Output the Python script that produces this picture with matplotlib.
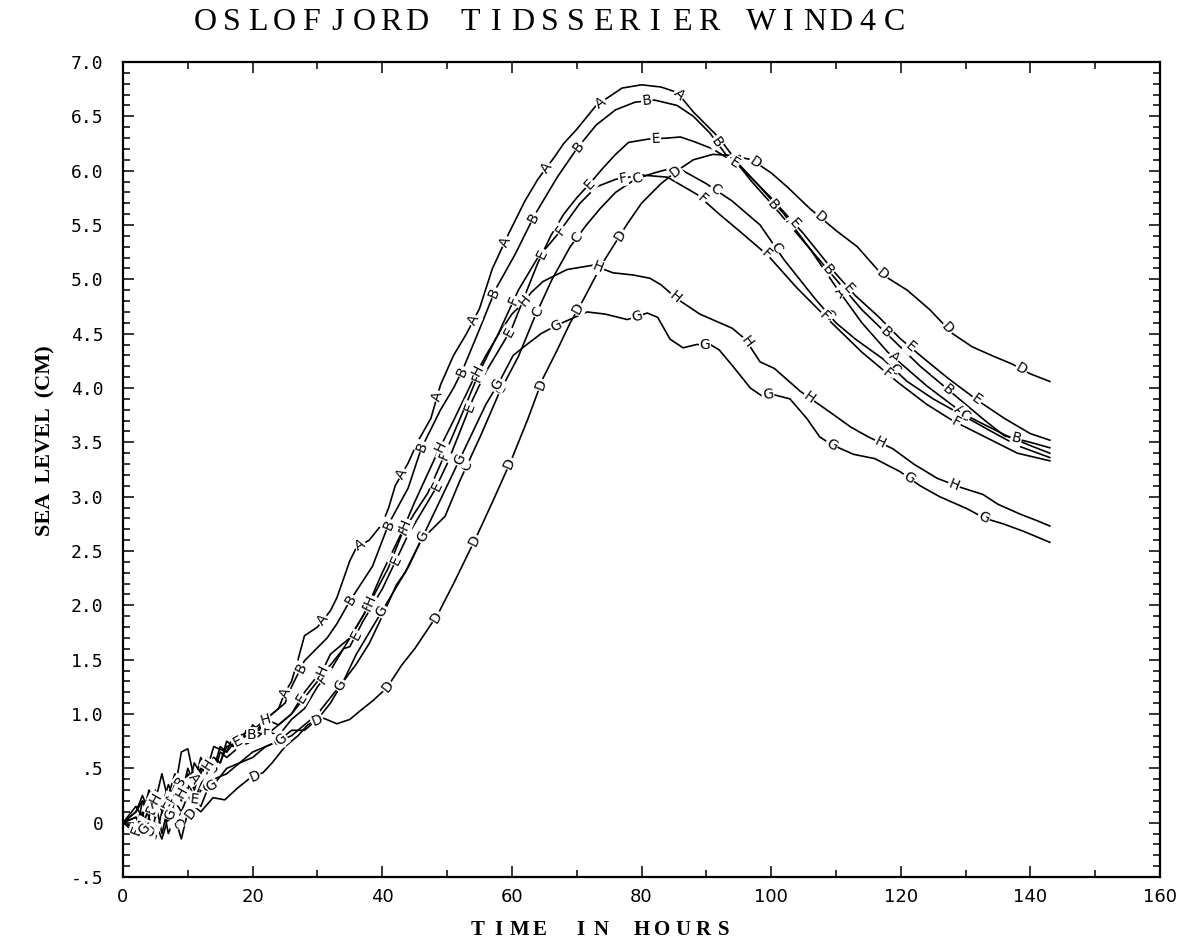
import numpy as np
import matplotlib
matplotlib.use("Agg")
import matplotlib.pyplot as plt
from matplotlib.ticker import MultipleLocator

W, H = 1184, 944

# time series (hours, cm)
t_a = [0, 2, 3, 4, 5, 6, 7, 8, 9, 10, 11, 12, 13, 14, 15, 16, 17, 18, 19, 20, 21, 22, 23, 24, 25, 26, 27, 28, 30,
       32, 33, 35, 36, 38, 40, 41, 42, 44, 45.5, 47.5, 49, 51, 53, 55, 57, 59.5, 62, 64, 66.5, 68, 70, 73, 75.5,
       77, 80, 83, 85.5, 88, 90, 92, 95, 98, 102, 106, 110, 114, 118, 124, 130, 136, 140, 143]
y_a = [0, 0.05, -0.05, 0.15, 0.05, 0.25, 0.1, 0.3, 0.65, 0.68, 0.4, 0.5, 0.45, 0.6, 0.55, 0.75, 0.7, 0.8, 0.75, 0.9,
       0.85, 0.95, 1.0, 1.05, 1.2, 1.3, 1.5, 1.72, 1.8, 1.95, 2.07, 2.41, 2.53, 2.6, 2.75, 2.9, 3.1, 3.31, 3.51, 3.72,
       4.03, 4.3, 4.5, 4.73, 5.1, 5.42, 5.72, 5.92, 6.12, 6.25, 6.38, 6.6, 6.7, 6.76, 6.79, 6.77, 6.72, 6.54, 6.42,
       6.3, 6.06, 5.87, 5.6, 5.28, 4.93, 4.6, 4.33, 4.02, 3.75, 3.57, 3.47, 3.40]

t_b = [0, 2, 3, 4, 5, 6, 7, 8, 9, 10, 11, 12, 13, 14, 15, 16, 17, 18, 19, 20, 22, 24, 25, 26, 27, 28, 30, 31.5, 33,
       35, 38.5, 41, 44, 46, 49, 51, 52.5, 55, 57.5, 60.5, 63.5, 67, 70, 73, 76, 79, 82, 85.5, 88, 90.5, 93, 95, 97,
       100, 105, 109, 114, 118, 123, 129, 133, 136, 140, 143]
y_b = [0, 0.1, 0.2, 0.05, 0.25, 0.15, 0.35, 0.2, 0.4, 0.3, 0.55, 0.45, 0.6, 0.5, 0.7, 0.65, 0.8, 0.7, 0.85, 0.8,
       0.95, 1.05, 1.1, 1.25, 1.37, 1.49, 1.61, 1.7, 1.83, 2.04, 2.36, 2.75, 3.08, 3.44, 3.8, 4.0, 4.18, 4.54, 4.91,
       5.23, 5.59, 5.94, 6.2, 6.42, 6.56, 6.63, 6.65, 6.6, 6.5, 6.35, 6.15, 6.05, 5.9, 5.7, 5.35, 5.07, 4.72, 4.49,
       4.2, 3.9, 3.7, 3.56, 3.5, 3.45]

t_c = [0, 2, 3, 4, 5, 6, 7, 8, 9, 10, 11, 12, 13, 14, 16, 18, 20, 22, 24, 26, 28, 30, 32, 34, 36, 38, 40, 42.2,
       43.5, 46, 49.7, 52, 55.1, 58, 61, 63.5, 66.2, 69, 71.5, 73.6, 76, 79, 82, 84.5, 86.4, 90, 94, 98.3, 102,
       106.8, 110, 113, 117.2, 121, 125, 129.2, 134, 138, 143]
y_c = [0, -0.05, 0.1, -0.15, 0.05, 0.2, -0.1, 0.05, -0.15, 0.1, 0.2, 0.15, 0.3, 0.4, 0.45, 0.55, 0.6, 0.7, 0.75,
       0.8, 0.9, 1.0, 1.15, 1.3, 1.46, 1.65, 1.9, 2.19, 2.3, 2.6, 2.82, 3.15, 3.55, 3.95, 4.29, 4.65, 5.0, 5.3, 5.5,
       5.65, 5.8, 5.92, 5.98, 6.02, 6.0, 5.88, 5.72, 5.5, 5.18, 4.82, 4.6, 4.45, 4.27, 4.06, 3.9, 3.76, 3.6, 3.47,
       3.36]

t_d = [0, 2, 3, 4, 5, 6, 7, 8, 9, 10, 11, 12, 13.9, 15.7, 17.7, 19.6, 21.6, 23, 25, 27, 28.5, 30, 31, 33, 35, 36.6,
       38.5, 40.7, 43, 45, 48.6, 51, 54.6, 57, 60, 62.5, 64.8, 67, 69, 71, 74, 77.8, 80, 83, 85.5, 88, 91, 94, 97,
       100, 102.5, 106, 110, 113.3, 117, 121, 124.5, 128, 131, 134, 137.2, 140, 143]
y_d = [0, -0.05, 0.05, -0.1, 0.0, -0.15, 0.05, 0.0, 0.1, 0.05, 0.15, 0.1, 0.23, 0.21, 0.32, 0.41, 0.46, 0.55, 0.7,
       0.8, 0.9, 0.95, 0.96, 0.91, 0.95, 1.03, 1.12, 1.24, 1.45, 1.6, 1.92, 2.2, 2.64, 2.95, 3.35, 3.72, 4.09, 4.35,
       4.6, 4.81, 5.15, 5.51, 5.7, 5.88, 6.0, 6.1, 6.15, 6.14, 6.1, 5.98, 5.85, 5.65, 5.45, 5.3, 5.05, 4.9, 4.72,
       4.5, 4.38, 4.3, 4.22, 4.13, 4.06]

t_e = [0, 2, 3, 4, 5, 6, 7, 8, 9, 10, 11, 12, 14, 15, 16, 18, 20, 22, 24, 26, 28, 30, 32, 34, 35, 37, 40, 42, 44,
       46, 48, 50, 52, 54, 56, 58, 60, 62, 64, 66, 68, 70, 72, 74, 76, 78, 81, 84, 86, 88, 91, 95, 100, 105, 110,
       113, 116.5, 120, 124, 127.5, 132, 136, 140, 143]
y_e = [0, -0.1, 0.2, 0.15, 0.3, 0.1, 0.25, 0.45, 0.3, 0.4, 0.2, 0.35, 0.6, 0.55, 0.7, 0.75, 0.85, 0.8, 0.9, 1.0,
       1.2, 1.35, 1.45, 1.6, 1.62, 1.85, 2.15, 2.4, 2.65, 2.85, 3.05, 3.3, 3.6, 3.9, 4.15, 4.35, 4.55, 4.85, 5.15,
       5.4, 5.6, 5.75, 5.88, 6.02, 6.15, 6.26, 6.29, 6.3, 6.31, 6.27, 6.2, 6.05, 5.75, 5.42, 5.05, 4.85, 4.66, 4.45,
       4.25, 4.08, 3.88, 3.72, 3.58, 3.52]

t_f = [0, 2, 3, 4, 5, 6, 7, 8, 9, 10, 11, 12, 14, 15, 16, 18, 20, 22, 24, 26, 28, 30, 32, 34.5, 37, 40.9, 43, 45,
       47, 49, 52.3, 55, 57.9, 61, 63.9, 67, 70.5, 73, 76, 80, 84, 88.6, 92, 95, 99.5, 104, 109, 114, 119.6, 124,
       128, 133, 138, 143]
y_f = [0, 0.1, 0.25, 0.1, 0.2, -0.1, 0.15, 0.3, 0.2, 0.45, 0.3, 0.5, 0.45, 0.65, 0.6, 0.7, 0.75, 0.85, 0.8, 0.95,
       1.05, 1.25, 1.4, 1.65, 1.9, 2.34, 2.65, 2.85, 3.03, 3.3, 3.76, 4.15, 4.5, 4.9, 5.19, 5.41, 5.7, 5.85, 5.92,
       5.96, 5.94, 5.78, 5.6, 5.45, 5.22, 4.92, 4.62, 4.33, 4.05, 3.85, 3.7, 3.55, 3.4, 3.33]

t_g = [0, 2, 3, 4, 5, 6, 7, 8, 9, 10, 11, 12, 14, 16, 18, 20, 22, 24, 26, 28, 30, 32, 34, 36, 38, 40, 42, 44, 46,
       48, 50, 52, 54, 56, 58, 60.2, 62.3, 64.5, 67, 71.6, 74.4, 77.8, 80.9, 82.5, 84.4, 86.4, 88.5, 90.6, 92, 94.1,
       96.8, 98.5, 100.3, 102.9, 105.5, 107.5, 109.3, 112.7, 116, 119.9, 123, 126, 130.2, 133, 135.8, 139, 143]
y_g = [0, 0.05, -0.1, 0.05, -0.15, 0.1, 0.0, 0.2, 0.1, 0.25, 0.15, 0.3, 0.35, 0.5, 0.55, 0.65, 0.7, 0.75, 0.85,
       0.85, 0.95, 1.1, 1.3, 1.55, 1.75, 1.95, 2.15, 2.35, 2.6, 2.85, 3.1, 3.35, 3.6, 3.85, 4.05, 4.3, 4.4, 4.5,
       4.58, 4.7, 4.68, 4.63, 4.69, 4.65, 4.45, 4.37, 4.4, 4.4, 4.35, 4.2, 4.0, 3.93, 3.94, 3.9, 3.72, 3.55, 3.48,
       3.39, 3.35, 3.23, 3.1, 3.0, 2.89, 2.8, 2.75, 2.68, 2.58]

t_h = [0, 2, 3, 4, 5, 6, 7, 8, 9, 10, 11, 12, 13, 14, 16, 18, 20, 22, 24, 26, 28, 30, 32, 34, 35, 37.3, 40, 43,
       45, 48.4, 51, 54.3, 56, 58, 60, 61.7, 63, 64.8, 68.5, 72.5, 75.6, 78.7, 81.3, 83, 85.5, 89, 94, 96, 98.3,
       100.5, 104.5, 109.5, 112.3, 115, 118.8, 122, 125.6, 129, 132.7, 135, 138.4, 141, 143]
y_h = [0, 0.15, 0.05, 0.3, 0.2, 0.45, 0.2, 0.35, 0.25, 0.5, 0.35, 0.6, 0.5, 0.7, 0.65, 0.8, 0.85, 0.95, 0.9, 1.0,
       1.15, 1.3, 1.55, 1.65, 1.7, 1.93, 2.3, 2.67, 2.95, 3.39, 3.7, 4.11, 4.3, 4.5, 4.68, 4.78, 4.88, 4.98, 5.09,
       5.13, 5.06, 5.04, 5.01, 4.95, 4.82, 4.68, 4.55, 4.45, 4.24, 4.18, 3.97, 3.76, 3.64, 3.55, 3.44, 3.3, 3.17,
       3.09, 3.02, 2.93, 2.84, 2.78, 2.73]

series = [("A", t_a, y_a), ("B", t_b, y_b), ("C", t_c, y_c), ("D", t_d, y_d),
          ("E", t_e, y_e), ("F", t_f, y_f), ("G", t_g, y_g), ("H", t_h, y_h)]

x_ticks = [0, 20, 40, 60, 80, 100, 120, 140, 160]
y_ticks = [-0.5, 0, 0.5, 1.0, 1.5, 2.0, 2.5, 3.0, 3.5, 4.0, 4.5, 5.0, 5.5, 6.0, 6.5, 7.0]
y_tick_labels = ["-.5", "0", ".5", "1.0", "1.5", "2.0", "2.5", "3.0", "3.5", "4.0", "4.5", "5.0", "5.5",
                 "6.0", "6.5", "7.0"]


def spaced_text(fig, text, x0, step, y, **kw):
    # plotter style lettering: fixed advance per character
    for i, ch in enumerate(text):
        fig.text((x0 + i * step) / W, 1 - y / H, ch, ha="center", va="center", **kw)


def label_curve(ax, t, y, letter, start, gap=85):
    # letters along the curve every `gap` pixels of arc length
    tt = np.linspace(t[0], t[-1], 3000)
    yy = np.interp(tt, t, y)
    pts = ax.transData.transform(np.column_stack([tt, yy]))
    s = np.concatenate([[0], np.cumsum(np.hypot(np.diff(pts[:, 0]), np.diff(pts[:, 1])))])
    for target in np.arange(start, s[-1] - 25, gap):
        i = np.searchsorted(s, target)
        j0, j1 = max(i - 12, 0), min(i + 12, len(tt) - 1)
        dx, dy = pts[j1] - pts[j0]
        ang = np.degrees(np.arctan2(dy, dx))
        if ang > 90:
            ang -= 180
        elif ang < -90:
            ang += 180
        ax.text(tt[i], yy[i], letter, rotation=ang, rotation_mode="anchor", ha="center", va="center",
                fontsize=10, family="DejaVu Sans",
                bbox=dict(facecolor="white", edgecolor="none", pad=0.7))


fig = plt.figure(figsize=(W / 100, H / 100), dpi=100)
ax = fig.add_axes([123 / W, 1 - 877 / H, (1160 - 123) / W, (877 - 62) / H])
ax.set_xlim(0, 160)
ax.set_ylim(-0.5, 7.0)

starts = {"A": 30, "B": 55, "C": 70, "D": 45, "E": 20, "F": 60, "G": 35, "H": 75}
for name, t, y in series:
    ax.plot(t, y, color="black", lw=1.2)
for name, t, y in series:
    label_curve(ax, t, y, name, starts[name])

ax.set_xticks(x_ticks)
ax.set_xticklabels([str(v) for v in x_ticks], family="DejaVu Sans", fontsize=13)
ax.xaxis.set_minor_locator(MultipleLocator(10))
ax.set_yticks(y_ticks)
ax.set_yticklabels(y_tick_labels, family="DejaVu Sans Mono", fontsize=13)
ax.yaxis.set_minor_locator(MultipleLocator(0.1))
ax.tick_params(which="both", direction="in", top=True, right=True, width=1.1)
ax.tick_params(which="major", length=8)
ax.tick_params(which="minor", length=5)
ax.tick_params(axis="y", which="major", pad=14)
ax.tick_params(axis="x", which="major", pad=8)
for sp in ax.spines.values():
    sp.set_linewidth(1.6)

spaced_text(fig, "OSLOFJORD TIDSSERIER WIND4C", 205, 26.5, 22, family="Liberation Serif", fontsize=23)
spaced_text(fig, "TIME IN HOURS", 478, 20.5, 930, family="Liberation Serif", fontsize=15, weight="bold")
fig.text(45 / W, 1 - 441 / H, "SEA  LEVEL  (CM)", rotation=90, ha="center", va="center",
         family="Liberation Serif", fontsize=16, weight="bold")

fig.savefig("out.png", dpi=100)
